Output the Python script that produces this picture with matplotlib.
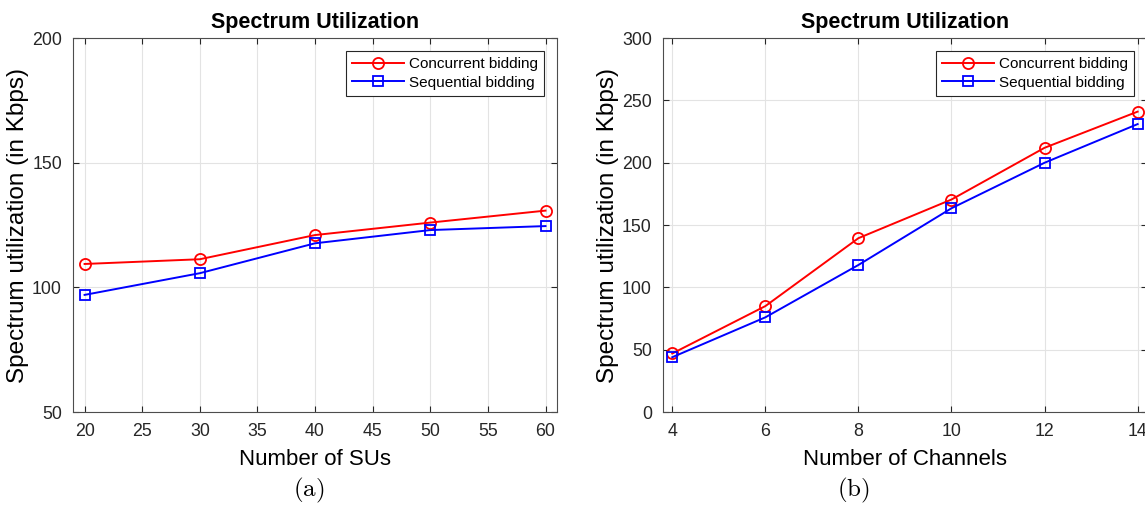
import matplotlib
matplotlib.use("Agg")
import matplotlib.pyplot as plt

plt.rcParams["font.family"] = ["Liberation Sans", "DejaVu Sans"]
plt.rcParams["mathtext.fontset"] = "cm"

# (a) spectrum utilization vs number of SUs
sus = [20, 30, 40, 50, 60]
conc_sus = [109.4, 111.3, 121.0, 126.0, 130.8]
seq_sus = [97.0, 105.7, 117.7, 123.0, 124.6]

# (b) spectrum utilization vs number of channels
channels = [4, 6, 8, 10, 12, 14]
conc_ch = [47, 85, 139.5, 170.5, 212, 241]
seq_ch = [44, 76, 118, 163.5, 200, 231]

AX_COLOR = "#262626"


def style_axes(ax):
    ax.grid(True, color="#e3e3e3", linewidth=0.8)
    ax.set_axisbelow(True)
    for s in ax.spines.values():
        s.set_color("#4d4d4d")
        s.set_linewidth(0.8)
    ax.tick_params(direction="in", top=True, right=True, labelsize=12.8,
                   colors=AX_COLOR, length=4, pad=8)


def draw(ax, x, conc, seq):
    ax.plot(x, conc, "-o", color="#ff0000", lw=1.4, ms=8, mfc="none",
            mew=1.3, label="Concurrent bidding")
    ax.plot(x, seq, "-s", color="#0000ff", lw=1.4, ms=6.5, mfc="none",
            mew=1.3, label="Sequential bidding")
    ax.set_title("Spectrum Utilization", fontsize=15.5, fontweight="bold", pad=7)
    ax.set_ylabel("Spectrum utilization (in Kbps)", fontsize=17.5, labelpad=2)
    leg = ax.legend(loc="upper right", fontsize=11, fancybox=False,
                    framealpha=1, borderpad=0.4, handlelength=3.4,
                    labelspacing=0.3, borderaxespad=0.85, handletextpad=0.3)
    leg.get_frame().set_edgecolor(AX_COLOR)
    leg.get_frame().set_linewidth(0.8)


fig = plt.figure(figsize=(11.45, 5.05), dpi=100)
ax1 = fig.add_axes([0.0638, 0.184, 0.4227, 0.7406])
ax2 = fig.add_axes([0.579, 0.184, 0.4227, 0.7406])

draw(ax1, sus, conc_sus, seq_sus)
ax1.set_xlim(19, 61)
ax1.set_ylim(50, 200)
ax1.set_xticks(range(20, 61, 5))
ax1.set_yticks([50, 100, 150, 200])
ax1.set_xlabel("Number of SUs", fontsize=16, labelpad=6)
style_axes(ax1)

draw(ax2, channels, conc_ch, seq_ch)
ax2.set_xlim(3.8, 14.2)
ax2.set_ylim(0, 300)
ax2.set_xticks(channels)
ax2.set_yticks(range(0, 301, 50))
ax2.set_xlabel("Number of Channels", fontsize=16, labelpad=6)
style_axes(ax2)

fig.text(0.27, 0.016, r"$\mathrm{(a)}$", ha="center", fontsize=18)
fig.text(0.745, 0.016, r"$\mathrm{(b)}$", ha="center", fontsize=18)

fig.savefig("out.png", dpi=100)
